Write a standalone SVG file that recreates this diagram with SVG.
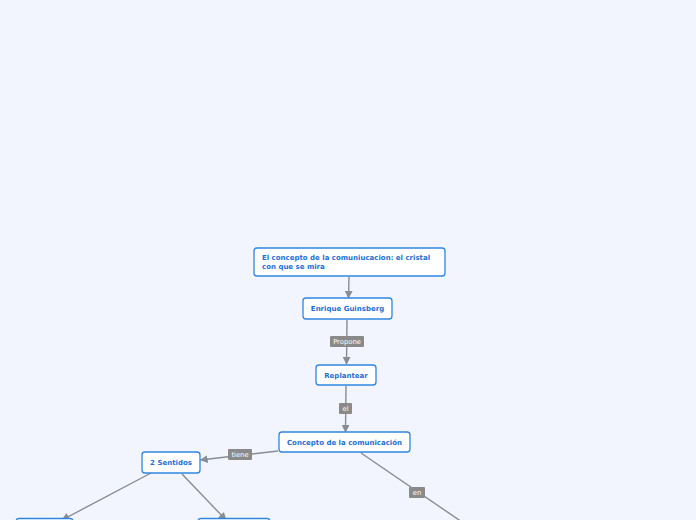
<svg xmlns="http://www.w3.org/2000/svg" width="696" height="520" viewBox="0 0 696 520">
<defs>
<marker id="ah2" viewBox="0 0 10 10" refX="9" refY="5" markerWidth="8" markerHeight="8" orient="auto" markerUnits="userSpaceOnUse">
<path d="M0,0 L10,5 L0,10 z" fill="#888c94"/>
</marker>
</defs>
<style>
.node rect{fill:#ffffff;stroke:#2f86e0;stroke-width:1.3}
.node text{font-family:"DejaVu Sans",Verdana,sans-serif;font-weight:bold;font-size:7px;fill:#1c6fd1;font-variant-ligatures:none}
.c line{stroke:#888c94;stroke-width:1.4;fill:none}
.lbl rect{fill:#8a8a8a}
.lbl text{font-family:"DejaVu Sans",Verdana,sans-serif;font-size:6.8px;fill:#ffffff;text-anchor:middle;font-variant-ligatures:none}
</style>
<rect width="696" height="520" fill="#f2f5fd"/>
<g class="c" id="connectors">
<line x1="349" y1="277" x2="348.5" y2="298" marker-end="url(#ah2)"/>
<line x1="347" y1="320" x2="346.5" y2="364" marker-end="url(#ah2)"/>
<line x1="346" y1="386" x2="345.5" y2="432" marker-end="url(#ah2)"/>
<line x1="278" y1="451" x2="200.5" y2="460" marker-end="url(#ah2)"/>
<line x1="361" y1="453" x2="462" y2="522"/>
<line x1="151" y1="473" x2="62" y2="520" marker-end="url(#ah2)"/>
<line x1="182" y1="474" x2="226" y2="520" marker-end="url(#ah2)"/>
<g class="lbl">
<rect x="330" y="336" width="34" height="11" rx="1"/><text x="347" y="344.3">Propone</text>
<rect x="339" y="403" width="13" height="11" rx="1"/><text x="345.5" y="411.3">el</text>
<rect x="228" y="449" width="24" height="11" rx="1"/><text x="240" y="457.3">tiene</text>
<rect x="409" y="487" width="16" height="11" rx="1"/><text x="417" y="495.3">en</text>
</g>
</g>
<g class="node" id="n-title">
<rect x="254" y="248" width="191" height="28" rx="3"/>
<text x="262" y="260">El concepto de la comuniucacion: el cristal</text>
<text x="262" y="269">con que se mira</text>
</g>
<g class="node" id="n-enrique">
<rect x="303" y="298" width="89" height="21" rx="3"/>
<text x="347.5" y="311" text-anchor="middle">Enrique Guinsberg</text>
</g>
<g class="node" id="n-replantear">
<rect x="316" y="365" width="60" height="20" rx="3"/>
<text x="346" y="377.5" text-anchor="middle">Replantear</text>
</g>
<g class="node" id="n-concepto">
<rect x="279" y="432" width="131" height="20" rx="3"/>
<text x="344.5" y="444.5" text-anchor="middle">Concepto de la comunicación</text>
</g>
<g class="node" id="n-sentidos">
<rect x="142" y="452" width="58" height="21" rx="3"/>
<text x="171" y="465" text-anchor="middle">2 Sentidos</text>
</g>
<g class="node" id="n-left">
<rect x="16" y="518.5" width="57" height="20" rx="3"/>
</g>
<g class="node" id="n-right">
<rect x="198" y="518.5" width="72" height="20" rx="3"/>
</g>
</svg>
